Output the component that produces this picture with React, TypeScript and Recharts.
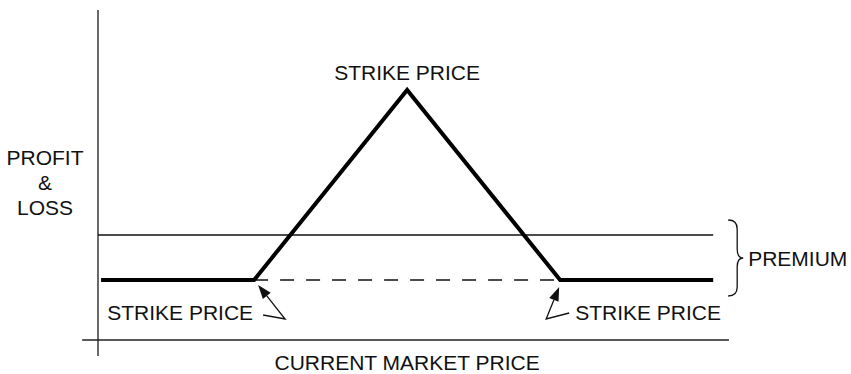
import React from 'react'
import { LineChart, Line, XAxis, YAxis, ReferenceLine, ReferenceDot, ReferenceArea } from 'recharts'

// payoff diagram, values in arbitrary price / P&L units
const prices = [20, 50, 80, 110, 140]
const payoff = [0, 0, 38, 0, 0]
const strikeLow = 50
const strikeMid = 80
const strikeHigh = 110
const premium = 9

const xDomain = [19.4, 143.1]
const yDomain = [-12, 54]
const axisLeft = 16.3
const axisBottom = -15.2

const FONT = '"Liberation Sans", Arial, Helvetica, sans-serif'
const FS = 21

const chartData = prices.map((p, i) => ({ price: p, pnl: payoff[i] }))

function arrow(tail: number[], corner: number[], tip: number[]) {
  const dx = tip[0] - corner[0]
  const dy = tip[1] - corner[1]
  const len = Math.hypot(dx, dy)
  const ux = dx / len, uy = dy / len
  const bx = tip[0] - ux * 14, by = tip[1] - uy * 14
  const px = -uy * 5, py = ux * 5
  return (
    <g>
      <polyline points={`${tail[0]},${tail[1]} ${corner[0]},${corner[1]} ${bx},${by}`}
        fill="none" stroke="#111" strokeWidth={1.3} />
      <polygon points={`${tip[0]},${tip[1]} ${bx + px},${by + py} ${bx - px},${by - py}`} fill="#111" />
    </g>
  )
}

const txt = { fontFamily: FONT, fontSize: FS, fill: '#111' }

export default function App() {
  return (
    <div style={{ position: 'absolute', left: 0, top: 0, background: '#fff' }}>
      <LineChart width={851} height={374} data={chartData}
        margin={{ top: 10, right: 122, bottom: 34, left: 98 }}>
        <XAxis dataKey="price" type="number" domain={xDomain} hide />
        <YAxis type="number" domain={yDomain} hide />

        {/* axes, drawn a bit past the origin like the original sketch */}
        <ReferenceLine segment={[{ x: xDomain[0], y: axisBottom }, { x: xDomain[0], y: yDomain[1] }]}
          stroke="#444" strokeWidth={1.6} ifOverflow="visible" />
        <ReferenceLine segment={[{ x: axisLeft, y: yDomain[0] }, { x: xDomain[1], y: yDomain[0] }]}
          stroke="#222" strokeWidth={1.6} ifOverflow="visible" />

        <ReferenceLine segment={[{ x: xDomain[0], y: premium }, { x: prices[prices.length - 1], y: premium }]}
          stroke="#111" strokeWidth={1.4} ifOverflow="visible" />
        <ReferenceLine segment={[{ x: strikeLow, y: 0 }, { x: strikeHigh, y: 0 }]}
          stroke="#111" strokeWidth={1.4} strokeDasharray="14 12" ifOverflow="visible" />

        <Line type="linear" dataKey="pnl" stroke="#000" strokeWidth={4} strokeLinejoin="miter"
          dot={false} activeDot={false} isAnimationActive={false} />

        <ReferenceDot x={strikeMid} y={payoff[2]} ifOverflow="visible"
          shape={(p: any) => (
            <text x={p.cx} y={p.cy - 10} textAnchor="middle" {...txt}>STRIKE PRICE</text>
          )} />
        <ReferenceDot x={strikeLow} y={0} ifOverflow="visible"
          shape={(p: any) => (
            <g>
              <text x={p.cx - 1} y={p.cy + 40} textAnchor="end" {...txt}>STRIKE PRICE</text>
              {arrow([p.cx + 9, p.cy + 35], [p.cx + 31, p.cy + 39], [p.cx + 4, p.cy + 5])}
            </g>
          )} />
        <ReferenceDot x={strikeHigh} y={0} ifOverflow="visible"
          shape={(p: any) => (
            <g>
              <text x={p.cx + 15} y={p.cy + 40} textAnchor="start" {...txt}>STRIKE PRICE</text>
              {arrow([p.cx + 9, p.cy + 33], [p.cx - 14, p.cy + 39], [p.cx - 1, p.cy + 7])}
            </g>
          )} />

        <ReferenceArea x1={prices[prices.length - 1]} x2={xDomain[1]} y1={0} y2={premium}
          ifOverflow="visible"
          shape={(p: any) => {
            const x0 = p.x + 15
            const top = p.y - 15
            const bot = p.y + p.height + 16
            const mid = (top + bot) / 2
            const sx = x0 + 9
            return (
              <g>
                <path d={`M ${x0} ${top} Q ${sx} ${top} ${sx} ${top + 9} L ${sx} ${mid - 9} Q ${sx} ${mid} ${sx + 6} ${mid} Q ${sx} ${mid} ${sx} ${mid + 9} L ${sx} ${bot - 9} Q ${sx} ${bot} ${x0} ${bot}`}
                  fill="none" stroke="#111" strokeWidth={1.3} />
                <text x={sx + 11} y={mid + 8} {...txt}>PREMIUM</text>
              </g>
            )
          }} />

        <ReferenceDot x={xDomain[0]} y={18} ifOverflow="visible"
          shape={(p: any) => (
            <g>
              <text x={p.cx - 53} y={p.cy - 25} textAnchor="middle" {...txt}>PROFIT</text>
              <text x={p.cx - 53} y={p.cy} textAnchor="middle" {...txt}>&amp;</text>
              <text x={p.cx - 53} y={p.cy + 25} textAnchor="middle" {...txt}>LOSS</text>
            </g>
          )} />
        <ReferenceDot x={strikeMid} y={yDomain[0]} ifOverflow="visible"
          shape={(p: any) => (
            <text x={p.cx} y={p.cy + 30} textAnchor="middle" {...txt}>CURRENT MARKET PRICE</text>
          )} />
      </LineChart>
    </div>
  )
}
